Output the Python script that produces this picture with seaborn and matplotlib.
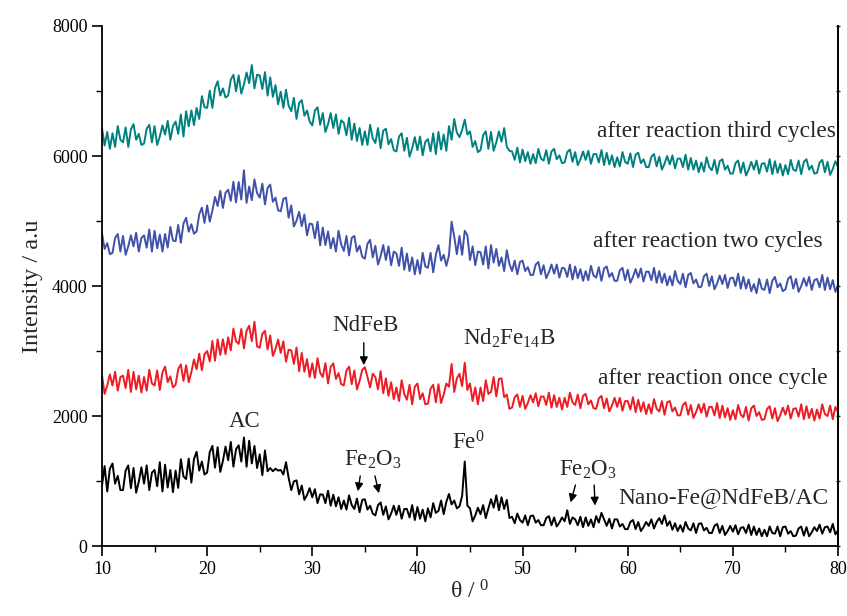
import matplotlib
matplotlib.use("Agg")
import matplotlib.pyplot as plt
import numpy as np
import pandas as pd
import seaborn as sns

# 2-theta grid, 0.25 deg steps
THETA = np.arange(10, 80.001, 0.25)

# one row per degree (x.00, x.25, x.50, x.75)
NANO = [
    930, 1230, 840, 1190,   1270, 960, 1080, 860,   860, 1160, 1240, 890,
    1200, 820, 990, 1210,   960, 1240, 860, 1130,   1170, 920, 1290, 840,
    1250, 900, 1170, 830,   1160, 895, 1335, 1070,  1030, 1345, 975, 1340,
    1450, 1160, 1300, 1100, 1130, 1445, 1540, 1205, 1520, 1140, 1310, 1530,
    1320, 1600, 1220, 1490, 1550, 1300, 1670, 1220, 1620, 1270, 1540, 1200,
    1410, 1090, 1470, 1150, 1200, 1150, 1190, 1160, 1170, 1100, 1290, 1050,
    860, 995, 1010, 795,    930, 710, 785, 890,     750, 875, 660, 795,
    790, 660, 850, 620,     790, 610, 750, 570,     700, 560, 780, 630,
    570, 730, 520, 710,     720, 560, 620, 500,     470, 630, 670, 480,
    610, 410, 500, 620,     480, 620, 420, 570,     570, 440, 630, 400,
    600, 420, 560, 380,     580, 440, 660, 510,     540, 700, 490, 680,
    800, 640, 700, 580,     610, 770, 1300, 620,    580, 380, 470, 590,
    490, 630, 430, 580,     720, 590, 780, 550,     750, 570, 710, 430,
    450, 350, 500, 400,     360, 470, 320, 460,     470, 360, 400, 320,
    320, 430, 460, 320,     440, 300, 360, 440,     380, 550, 340, 440,
    410, 320, 450, 290,     440, 310, 410, 290,     460, 360, 510, 410,
    310, 420, 270, 410,     410, 300, 340, 260,     260, 370, 400, 260,
    370, 230, 290, 370,     310, 410, 270, 370,     430, 340, 470, 310,
    380, 250, 350, 230,     320, 220, 370, 270,     240, 350, 200, 340,
    350, 240, 280, 200,     200, 310, 340, 200,     310, 170, 230, 310,
    220, 320, 180, 280,     290, 200, 330, 170,     300, 170, 270, 150,
    250, 150, 300, 200,     190, 300, 150, 290,     300, 190, 230, 150,
    160, 270, 300, 160,     290, 150, 210, 290,     230, 330, 190, 290,
    300, 210, 340, 180,
    240,
]

ONCE = [
    2630, 2340, 2470, 2640, 2470, 2680, 2390, 2600, 2620, 2430, 2710, 2370,
    2680, 2410, 2620, 2360, 2600, 2390, 2710, 2500, 2470, 2700, 2400, 2670,
    2760, 2520, 2610, 2440, 2480, 2720, 2795, 2540, 2780, 2520, 2675, 2870,
    2720, 2960, 2705, 2950, 3000, 2840, 3155, 2850, 3180, 2940, 3180, 2950,
    3210, 3010, 3345, 3150, 3110, 3340, 3040, 3310, 3390, 3150, 3450, 3070,
    3050, 3265, 3310, 3025, 3240, 2925, 3030, 3175, 2970, 3150, 2835, 3020,
    3010, 2800, 3055, 2690, 2970, 2680, 2875, 2600, 2810, 2585, 2890, 2665,
    2600, 2815, 2500, 2755, 2810, 2570, 2660, 2490, 2470, 2700, 2760, 2490,
    2700, 2410, 2540, 2710, 2750, 2600, 2440, 2650, 2600, 2410, 2690, 2350,
    2580, 2310, 2520, 2260, 2440, 2230, 2550, 2340, 2250, 2480, 2180, 2450,
    2500, 2260, 2350, 2180, 2190, 2420, 2480, 2210, 2490, 2200, 2330, 2500,
    2450, 2800, 2370, 2580, 2650, 2460, 2820, 2400, 2500, 2230, 2440, 2180,
    2440, 2230, 2550, 2340, 2370, 2600, 2300, 2570, 2580, 2290, 2330, 2110,
    2130, 2290, 2330, 2140, 2310, 2110, 2200, 2320, 2210, 2350, 2150, 2300,
    2300, 2170, 2360, 2130, 2320, 2140, 2280, 2100, 2280, 2140, 2360, 2210,
    2170, 2330, 2120, 2310, 2340, 2180, 2240, 2120, 2110, 2270, 2310, 2120,
    2270, 2070, 2160, 2280, 2140, 2280, 2080, 2230, 2230, 2100, 2290, 2060,
    2250, 2070, 2210, 2030, 2180, 2040, 2260, 2110, 2070, 2230, 2020, 2210,
    2230, 2070, 2130, 2010, 2010, 2170, 2210, 2020, 2170, 1970, 2060, 2180,
    2050, 2190, 1990, 2140, 2140, 2010, 2200, 1970, 2160, 1980, 2120, 1940,
    2090, 1950, 2170, 2020, 1980, 2140, 1930, 2120, 2160, 2000, 2060, 1940,
    1950, 2110, 2150, 1960, 2120, 1920, 2010, 2130, 2020, 2160, 1960, 2110,
    2120, 1990, 2180, 1950, 2150, 1970, 2110, 1930, 2100, 1960, 2180, 2030,
    2000, 2160, 1950, 2140,
    2060,
]

TWO = [
    4810, 4570, 4660, 4490, 4510, 4740, 4800, 4530, 4770, 4480, 4610, 4780,
    4610, 4820, 4530, 4740, 4780, 4590, 4870, 4530, 4850, 4580, 4790, 4530,
    4800, 4590, 4910, 4700, 4690, 4940, 4665, 4960, 5050, 4835, 4950, 4805,
    4840, 5105, 5205, 4970, 5240, 4990, 5160, 5370, 5230, 5465, 5200, 5435,
    5480, 5310, 5605, 5285, 5600, 5330, 5780, 5280, 5530, 5320, 5640, 5430,
    5360, 5575, 5255, 5510, 5560, 5295, 5360, 5165, 5150, 5340, 5360, 5050,
    5240, 4915, 5005, 5140, 4920, 5100, 4780, 4960, 4950, 4735, 4990, 4625,
    4900, 4630, 4840, 4580, 4740, 4530, 4850, 4640, 4540, 4770, 4470, 4740,
    4770, 4530, 4620, 4450, 4420, 4650, 4710, 4440, 4620, 4330, 4460, 4630,
    4400, 4610, 4320, 4530, 4500, 4310, 4590, 4250, 4500, 4230, 4440, 4180,
    4400, 4190, 4510, 4300, 4280, 4510, 4210, 4480, 4630, 4390, 4480, 4310,
    4470, 4990, 4760, 4490, 4770, 4480, 4850, 4780, 4400, 4610, 4320, 4530,
    4520, 4330, 4610, 4270, 4630, 4360, 4570, 4310, 4440, 4230, 4550, 4340,
    4230, 4390, 4180, 4370, 4390, 4230, 4290, 4170, 4170, 4330, 4370, 4180,
    4320, 4120, 4210, 4330, 4190, 4330, 4130, 4280, 4270, 4140, 4330, 4100,
    4300, 4120, 4260, 4080, 4230, 4090, 4310, 4160, 4130, 4290, 4080, 4270,
    4300, 4140, 4200, 4080, 4080, 4240, 4280, 4090, 4250, 4050, 4140, 4260,
    4130, 4270, 4070, 4220, 4220, 4090, 4280, 4050, 4230, 4050, 4190, 4010,
    4150, 4010, 4230, 4080, 4030, 4190, 3980, 4170, 4200, 4040, 4100, 3980,
    3990, 4150, 4190, 4000, 4150, 3950, 4040, 4160, 4030, 4170, 3970, 4120,
    4130, 4000, 4190, 3960, 4140, 3960, 4100, 3920, 4030, 3890, 4110, 3960,
    3940, 4100, 3890, 4080, 4140, 3980, 4040, 3920, 3950, 4110, 4150, 3960,
    4110, 3910, 4000, 4120, 4000, 4140, 3940, 4090, 4110, 3980, 4170, 3940,
    4130, 3950, 4090, 3910,
    4020,
]

THIRD = [
    6430, 6160, 6370, 6110, 6350, 6140, 6460, 6250, 6210, 6440, 6140, 6410,
    6490, 6250, 6340, 6170, 6190, 6420, 6480, 6210, 6460, 6170, 6300, 6470,
    6330, 6540, 6250, 6460, 6530, 6340, 6640, 6300, 6690, 6455, 6700, 6475,
    6740, 6570, 6920, 6750, 6740, 7005, 6740, 7045, 7150, 6930, 7040, 6900,
    6930, 7175, 7250, 6995, 7240, 6960, 7100, 7285, 7120, 7400, 7040, 7250,
    7240, 7030, 7290, 6930, 7210, 6910, 7090, 6795, 6990, 6740, 7020, 6775,
    6690, 6895, 6570, 6815, 6860, 6620, 6700, 6530, 6470, 6700, 6750, 6480,
    6660, 6370, 6490, 6660, 6430, 6640, 6340, 6550, 6510, 6320, 6590, 6250,
    6500, 6230, 6430, 6170, 6380, 6170, 6480, 6270, 6200, 6430, 6120, 6390,
    6420, 6180, 6260, 6090, 6070, 6300, 6350, 6080, 6280, 5990, 6120, 6290,
    6090, 6300, 6010, 6220, 6260, 6070, 6350, 6030, 6370, 6100, 6330, 6080,
    6460, 6250, 6570, 6360, 6290, 6400, 6560, 6330, 6380, 6140, 6230, 6060,
    6090, 6320, 6380, 6110, 6370, 6080, 6210, 6380, 6220, 6430, 6140, 6080,
    6070, 5940, 6130, 5900, 6100, 5920, 6060, 5880, 6030, 5890, 6110, 5960,
    5930, 6090, 5880, 6070, 6110, 5950, 6010, 5890, 5900, 6060, 6100, 5910,
    6060, 5860, 5950, 6070, 5940, 6080, 5880, 6030, 6030, 5900, 6090, 5860,
    6050, 5870, 6010, 5830, 5980, 5840, 6060, 5910, 5880, 6040, 5830, 6020,
    6050, 5890, 5950, 5830, 5830, 5990, 6030, 5840, 5990, 5790, 5880, 6000,
    5870, 6010, 5810, 5960, 5960, 5830, 6020, 5790, 5970, 5790, 5930, 5750,
    5900, 5760, 5980, 5830, 5780, 5940, 5730, 5920, 5950, 5790, 5850, 5730,
    5730, 5890, 5930, 5740, 5900, 5700, 5790, 5910, 5790, 5930, 5730, 5880,
    5890, 5760, 5950, 5720, 5920, 5740, 5880, 5700, 5860, 5720, 5940, 5790,
    5770, 5930, 5720, 5910, 5950, 5790, 5850, 5730, 5740, 5900, 5940, 5750,
    5910, 5710, 5800, 5920,
    5830,
]

SAMPLES = ["Nano-Fe@NdFeB/AC", "after reaction once cycle",
           "after reaction two cycles", "after reaction third cycles"]
COLORS = ["#000000", "#ED1C24", "#3F51A8", "#00807F"]

for s in (NANO, ONCE, TWO, THIRD):
    assert len(s) == len(THETA), len(s)

df = pd.concat([
    pd.DataFrame({"theta": THETA, "intensity": vals, "sample": name})
    for name, vals in zip(SAMPLES, [NANO, ONCE, TWO, THIRD])
])

sns.set_theme(style="ticks")
plt.rcParams["font.family"] = ["Liberation Serif", "DejaVu Serif"]
plt.rcParams["mathtext.fontset"] = "custom"
plt.rcParams["mathtext.rm"] = "Liberation Serif"
plt.rcParams["mathtext.it"] = "Liberation Serif:italic"

fig = plt.figure(figsize=(8.47, 6.16), dpi=100)
ax = fig.add_axes([0.1204, 0.1136, 0.869, 0.8442])

sns.lineplot(data=df, x="theta", y="intensity", hue="sample",
             palette=dict(zip(SAMPLES, COLORS)), estimator=None, sort=False,
             linewidth=1.4, legend=False, ax=ax)

ax.set_xlim(10, 80)
ax.set_ylim(0, 8000)
ax.set_xticks(range(10, 81, 10))
ax.set_xticks(range(15, 80, 10), minor=True)
ax.set_yticks(range(0, 8001, 2000))
ax.set_yticks(range(1000, 8000, 2000), minor=True)
ax.tick_params(which="major", length=7, width=1.2, color="black",
               labelsize=13, labelcolor="black", direction="out")
ax.tick_params(which="minor", length=4, width=1.0, color="black", direction="out")
ax.spines["top"].set_visible(False)
for side in ["left", "bottom", "right"]:
    ax.spines[side].set_linewidth(1.3)
    ax.spines[side].set_color("black")

sec = ax.secondary_yaxis("right")
sec.set_yticks(range(0, 8001, 1000))
sec.tick_params(direction="inout", length=3, width=1.0, labelright=False)
sec.spines["right"].set_linewidth(1.3)

ax.set_xlabel(r"θ / $^\mathrm{0}$", fontsize=17, labelpad=2)
ax.set_ylabel("Intensity / a.u", fontsize=17.5, labelpad=6)

# sample labels on the right
label_pos = [(79.05, 750), (79.05, 2580), (78.5, 4680), (79.8, 6380)]
for name, (x, y) in zip(SAMPLES, label_pos):
    ax.text(x, y, name, ha="right", va="center", fontsize=16.8)

# phase labels
ax.text(23.6, 1920, "AC", ha="center", va="center", fontsize=16.5)
ax.text(44.8, 1580, r"Fe$^\mathrm{0}$", ha="center", va="center", fontsize=16.5)
ax.text(35.1, 3400, "NdFeB", ha="center", va="center", fontsize=16.5)
ax.text(48.7, 3200, r"Nd$_\mathrm{2}$Fe$_\mathrm{14}$B", ha="center", va="center", fontsize=16.5)
ax.text(35.8, 1320, r"Fe$_\mathrm{2}$O$_\mathrm{3}$", ha="center", va="center", fontsize=16.5)
ax.text(56.2, 1170, r"Fe$_\mathrm{2}$O$_\mathrm{3}$", ha="center", va="center", fontsize=16.5)

arrow = dict(arrowstyle="-|>", color="black", lw=1.0, mutation_scale=12)
arrows = [
    ((34.9, 3170), (34.9, 2740)),
    ((34.6, 1120), (34.3, 800)),
    ((35.9, 1120), (36.4, 770)),
    ((55.1, 980), (54.5, 630)),
    ((56.8, 980), (56.9, 580)),
]
for start, end in arrows:
    ax.annotate("", xy=end, xytext=start, arrowprops=arrow)

fig.savefig("out.png", dpi=100)
